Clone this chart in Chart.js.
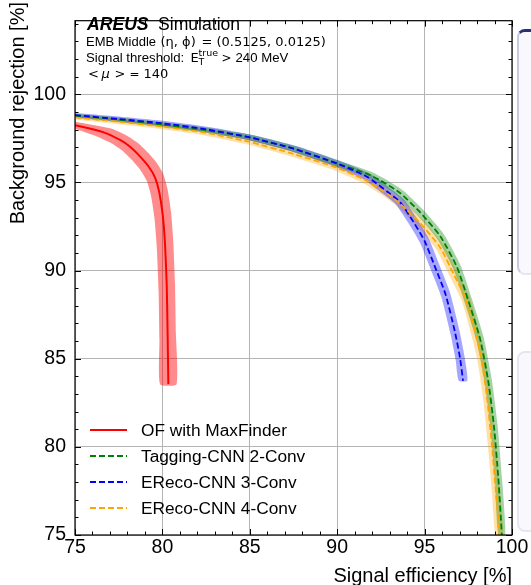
<!DOCTYPE html>
<html>
<head>
<meta charset="utf-8">
<script src="https://cdn.jsdelivr.net/npm/chart.js@4.4.0/dist/chart.umd.min.js"></script>
<style>
  html, body { margin: 0; padding: 0; background: #fff; overflow: hidden; }
  #wrap { position: relative; width: 531px; height: 585px; overflow: hidden; }
  canvas { position: absolute; left: 0; top: 0; }
  .panel { position: absolute; left: 517px; width: 40px; background: #f9f9fd; border: 2px solid #e6e6f1; border-radius: 8px; }
</style>
</head>
<body>
<div id="wrap">
  <div class="panel" style="top:29px;height:241px;border-top:3px solid #2b2f78;border-left-color:#c9cae0"></div>
  <div class="panel" style="top:351px;height:177px"></div>
  <canvas id="myChart" width="531" height="585"></canvas>
</div>
<script>
// OF with MaxFinder
const ofX = [75.0, 76.6, 77.6, 78.15, 78.7, 79.2, 79.58, 79.82, 80.02, 80.15, 80.25, 80.3, 80.34]
const ofY = [98.25, 97.86, 97.4, 97.03, 96.5, 95.92, 95.28, 94.45, 93.15, 91.5, 89.1, 86.3, 83.56]
// Tagging-CNN 2-Conv
const tagX = [75, 77.5, 80, 82.5, 85, 87.5, 90, 91.7, 92.5, 93.6, 94.75, 95.9, 96.85, 97.5, 98.17, 98.64, 98.97, 99.22, 99.42]
const tagY = [98.78, 98.56, 98.28, 97.97, 97.56, 96.92, 96.08, 95.5, 95.1, 94.4, 93.3, 91.95, 90.2, 88.3, 86.14, 83.74, 81.16, 78.2, 75.0]
// EReco-CNN 3-Conv
const er3X = [75, 77.5, 80, 82.5, 85, 87.5, 90, 91.7, 93.0, 93.6, 94.35, 95.0, 95.6, 96.2, 96.74, 97.03, 97.2]
const er3Y = [98.82, 98.6, 98.36, 98.02, 97.56, 96.92, 96.07, 95.33, 94.38, 93.89, 92.78, 91.68, 90.2, 88.65, 86.5, 85.03, 83.75]
// EReco-CNN 4-Conv
const er4X = [75, 77.5, 80, 82.5, 85, 87.5, 90, 91.7, 93.0, 93.6, 94.75, 95.9, 96.65, 97.35, 98.17, 98.55, 98.84, 99.08, 99.28]
const er4Y = [98.69, 98.45, 98.17, 97.82, 97.3, 96.62, 95.83, 95.09, 94.26, 93.8, 92.69, 91.3, 89.83, 88.4, 85.4, 83.0, 80.23, 77.46, 75.0]

const seriesNames = ['OF with MaxFinder', 'Tagging-CNN 2-Conv', 'EReco-CNN 3-Conv', 'EReco-CNN 4-Conv']
// half width of the uncertainty bands (x = efficiency, y = rejection)
const bandErrX = [0.47, 0.2, 0.25, 0.22]
const bandErrY = [0.2, 0.12, 0.12, 0.12]

const xTicks = [75, 80, 85, 90, 95, 100]
const yTicks = [75, 80, 85, 90, 95, 100]

const colors = ['#ff0000', '#008000', '#0000ff', '#ffa500']
const bandColors = ['rgba(255,0,0,0.45)', 'rgba(0,128,0,0.35)', 'rgba(0,0,255,0.35)', 'rgba(255,165,0,0.35)']
const FONT = "'Liberation Sans', Arial, sans-serif"
const MATH = "'DejaVu Sans', sans-serif"

function toPoints(xs, ys) {
  return xs.map((x, i) => ({x: x, y: ys[i]}))
}
// closed outline around a curve: one side shifted down-left, the other up-right
function bandPoints(xs, ys, ex, ey) {
  const last = xs.length - 1
  const lo = xs.map((x, i) => ({x: x - (i === 0 ? 0 : ex), y: ys[i] - (i === last ? 0 : ey)}))
  const hi = xs.map((x, i) => ({x: x + (i === 0 ? 0 : ex), y: ys[i] + (i === last ? 0 : ey)})).reverse()
  return lo.concat(hi)
}

const allX = [ofX, tagX, er3X, er4X]
const allY = [ofY, tagY, er3Y, er4Y]
const lineOrder = [3, 2, 1, 0]

const datasets = []
allX.forEach(function(xs, k) {
  datasets.push({
    label: seriesNames[k] + ' band',
    data: bandPoints(xs, allY[k], bandErrX[k], bandErrY[k]),
    showLine: true,
    fill: 'shape',
    backgroundColor: bandColors[k],
    borderColor: 'rgba(0,0,0,0)',
    borderWidth: 0,
    pointRadius: 0,
    tension: 0.18,
    order: 10 + k
  })
})
allX.forEach(function(xs, k) {
  datasets.push({
    label: seriesNames[k],
    data: toPoints(xs, allY[k]),
    showLine: true,
    fill: false,
    borderColor: colors[k],
    borderWidth: k === 0 ? 2 : 1.8,
    borderDash: k === 0 ? [] : [6, 3],
    pointRadius: 0,
    tension: 0.2,
    order: lineOrder[k]
  })
})

// inward ticks on all four sides, frame, texts and legend
const decorations = {
  id: 'decorations',
  afterDatasetsDraw(chart) {
    const {ctx, chartArea: a, scales: {x, y}} = chart
    ctx.save()
    ctx.strokeStyle = '#000'
    ctx.lineWidth = 1
    ctx.beginPath()
    for (let v = Math.ceil(x.min); v <= x.max; v++) {
      const px = Math.round(x.getPixelForValue(v)) + 0.5
      const len = v % 5 === 0 ? 6 : 3.5
      ctx.moveTo(px, a.bottom); ctx.lineTo(px, a.bottom - len)
      ctx.moveTo(px, a.top); ctx.lineTo(px, a.top + len)
    }
    for (let v = Math.ceil(y.min); v <= y.max; v++) {
      const py = Math.round(y.getPixelForValue(v)) + 0.5
      const len = v % 5 === 0 ? 6 : 3.5
      ctx.moveTo(a.left, py); ctx.lineTo(a.left + len, py)
      ctx.moveTo(a.right, py); ctx.lineTo(a.right - len, py)
    }
    ctx.stroke()
    ctx.lineWidth = 1.2
    ctx.strokeRect(a.left, a.top, a.right - a.left, a.bottom - a.top)
    ctx.restore()
  },
  afterDraw(chart) {
    const ctx = chart.ctx
    ctx.save()
    ctx.fillStyle = '#000'
    ctx.textBaseline = 'alphabetic'
    ctx.textAlign = 'left'
    // text block
    ctx.font = 'italic bold 17.6px ' + FONT
    ctx.fillText('AREUS', 87, 30)
    ctx.font = '17.6px ' + FONT
    ctx.fillText('Simulation', 158, 30)
    ctx.font = '13px ' + FONT
    ctx.fillText('EMB Middle', 86, 46)
    ctx.font = '13px ' + MATH
    ctx.fillText('(η, ϕ)', 160.5, 46)
    ctx.fillText('=', 201.5, 46)
    ctx.fillText('(0.5125, 0.0125)', 216.5, 46)
    ctx.font = '13.2px ' + FONT
    ctx.fillText('Signal threshold:', 86, 61.5)
    ctx.font = '13px ' + MATH
    ctx.fillText('E', 190.5, 61.5)
    ctx.font = '9.5px ' + MATH
    ctx.fillText('true', 198.5, 56)
    ctx.fillText('T', 198.5, 64.5)
    ctx.font = '12px ' + MATH
    ctx.fillText('>', 221.5, 61.5)
    ctx.font = '13.2px ' + FONT
    ctx.fillText('240 MeV', 235.5, 61.5)
    ctx.font = '13px ' + MATH
    ctx.fillText('<', 88, 77.5)
    ctx.font = 'italic 13px ' + MATH
    ctx.fillText('μ', 101.5, 77.5)
    ctx.font = '13px ' + MATH
    ctx.fillText('>', 114.5, 77.5)
    ctx.font = '12px ' + MATH
    ctx.fillText('=', 129.5, 77.5)
    ctx.font = '13px ' + MATH
    ctx.fillText('140', 143.5, 77.5)

    // axis titles
    ctx.font = '20px ' + FONT
    ctx.textAlign = 'right'
    ctx.fillText('Signal efficiency [%]', 512, 582)
    ctx.save()
    ctx.translate(24, 2)
    ctx.rotate(-Math.PI / 2)
    ctx.fillText('Background rejection [%]', 0, 0)
    ctx.restore()

    // legend
    ctx.textAlign = 'left'
    ctx.textBaseline = 'middle'
    ctx.font = '17.3px ' + FONT
    const rows = [430, 456, 482, 508]
    seriesNames.forEach(function(name, k) {
      const ds = chart.data.datasets[4 + k]
      ctx.strokeStyle = ds.borderColor
      ctx.lineWidth = ds.borderWidth
      ctx.setLineDash(ds.borderDash)
      ctx.beginPath()
      ctx.moveTo(90, rows[k])
      ctx.lineTo(127, rows[k])
      ctx.stroke()
      ctx.setLineDash([])
      ctx.fillText(name, 141, rows[k] + 1)
    })
    ctx.restore()
  }
}

const ctx = document.getElementById('myChart')
const myChart = new Chart(ctx, {
  type: 'scatter',
  data: { datasets: datasets },
  options: {
    responsive: false,
    animation: false,
    events: [],
    layout: { padding: { top: 8, right: 19, left: 0, bottom: 0 } },
    plugins: {
      legend: { display: false },
      tooltip: { enabled: false }
    },
    scales: {
      x: {
        type: 'linear',
        min: 75,
        max: 100,
        afterBuildTicks: s => { s.ticks = xTicks.map(v => ({value: v})) },
        afterFit: s => { s.height = 50 },
        grid: { color: '#b4b4b4', lineWidth: 1, drawTicks: false },
        border: { display: false },
        ticks: { color: '#000', padding: 1, maxRotation: 0, font: { family: FONT, size: 19.5 } }
      },
      y: {
        type: 'linear',
        min: 75,
        max: 104.18,
        afterBuildTicks: s => { s.ticks = yTicks.map(v => ({value: v})) },
        afterFit: s => { s.width = 75 },
        grid: { color: '#b4b4b4', lineWidth: 1, drawTicks: false },
        border: { display: false },
        ticks: { color: '#000', padding: 9, font: { family: FONT, size: 19.5 } }
      }
    }
  },
  plugins: [decorations]
})
</script>
</body>
</html>
